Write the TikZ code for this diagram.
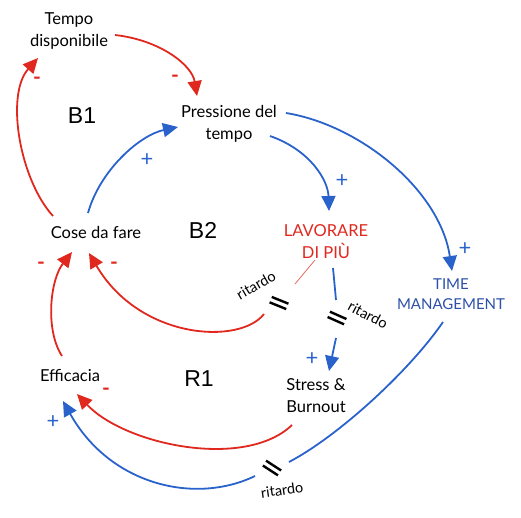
\documentclass[tikz,border=0pt]{standalone}
\usepackage{fontspec}
\setmainfont{Lato}
\newfontfamily\helv{Liberation Sans}
\usetikzlibrary{arrows.meta}
\definecolor{cldred}{HTML}{E0281E}
\definecolor{cldblue}{HTML}{2A62CC}
\definecolor{tmblue}{HTML}{2C50A8}
\begin{document}
\begin{tikzpicture}[x=1pt,y=1pt,
  var/.style={align=center,font=\fontsize{16.5}{22}\selectfont,inner sep=0pt},
  loopname/.style={font=\helv\fontsize{23}{23}\selectfont,inner sep=0pt},
  minus/.style={text=cldred,font=\bfseries\fontsize{21}{21}\selectfont,inner sep=0pt},
  plus/.style={text=cldblue,font=\fontsize{22}{22}\selectfont,inner sep=0pt},
  neglink/.style={draw=cldred,line width=1.8pt,-{Triangle[length=15pt,width=14pt]},fill=none},
  poslink/.style={draw=cldblue,line width=1.8pt,-{Triangle[length=15pt,width=14pt]},fill=none},
  delaytext/.style={font=\fontsize{14.5}{14.5}\selectfont,inner sep=0pt},
  delaymarks/.pic={\draw[line width=2.4pt,black] (-9,2.9)--(9,2.9) (-9,-2.9)--(9,-2.9);}
]
\useasboundingbox (0,0) rectangle (521,-517);

% variables
\node[var] (T) at (69,-31) {Tempo\\disponibile};
\node[var] (P) at (229,-124) {Pressione del\\tempo};
\node[var] (C) at (96,-232) {Cose da fare};
\node[var,text=cldred] (L) at (326,-242) {LAVORARE\\DI PIÙ};
\node[var,text=tmblue,font=\fontsize{15}{20}\selectfont] (M) at (451,-294) {TIME\\MANAGEMENT};
\node[var] (E) at (70,-375) {Efficacia};
\node[var] (S) at (316,-396) {Stress \&\\Burnout};

% loop names
\node[loopname] (b1) at (82,-116) {B1};
\node[loopname] (b2) at (203,-230) {B2};
\node[loopname] (r1) at (199,-379) {R1};

% delay marks
\node[coordinate] (d1) at (279,-303) {};
\node[coordinate] (d2) at (337,-318) {};
\node[coordinate] (d3) at (272,-468) {};
\pic[rotate=-22] at (d1) {delaymarks};
\pic[rotate=-24] at (d2) {delaymarks};
\pic[rotate=-33] at (d3) {delaymarks};
\node[delaytext,rotate=30] (rt1) at (256,-285) {ritardo};
\node[delaytext,rotate=-28] (rt2) at (368,-315) {ritardo};
\node[delaytext,rotate=8] (rt3) at (282,-490) {ritardo};

% connectors
\draw[neglink] ([xshift=-43,yshift=16]C.center) .. controls (20,-180) and (5,-95) .. ([xshift=-31,yshift=-27]T.center);
\draw[neglink] ([xshift=46,yshift=-4]T.center) .. controls (160,-40) and (192,-65) .. ([xshift=-32,yshift=28]P.center);
\draw[poslink] ([xshift=-8,yshift=19]C.center) .. controls (100,-170) and (140,-135) .. ([xshift=-51,yshift=-3]P.center);
\draw[poslink] ([xshift=41,yshift=-12]P.center) .. controls (310,-150) and (328,-180) .. ([xshift=3,yshift=31]L.center);
\draw[poslink] ([xshift=57,yshift=11]P.center) .. controls (360,-125) and (440,-190) .. ([xshift=1,yshift=23]M.center);
\draw[cldred!70,line width=0.8pt] ([xshift=-11,yshift=-18]L.center) -- ([xshift=16,yshift=19]d1);
\draw[neglink] ([xshift=-15,yshift=-11]d1) .. controls (240,-345) and (140,-340) .. ([xshift=-7,yshift=-21]C.center);
\draw[neglink] ([xshift=-8,yshift=19]E.center) .. controls (45,-330) and (50,-280) .. ([xshift=-24,yshift=-20]C.center);
\draw[cldblue,line width=1.8pt] ([xshift=7,yshift=-26]L.center) -- ([xshift=-1,yshift=18]d2);
\draw[poslink] ([xshift=-1,yshift=-20]d2) -- ([xshift=13,yshift=25]S.center);
\draw[neglink] ([xshift=-24,yshift=-29]S.center) .. controls (245,-470) and (125,-445) .. ([xshift=7,yshift=-19]E.center);
\draw[cldblue,line width=1.8pt] ([xshift=-8,yshift=-28]M.center) .. controls (410,-370) and (340,-435) .. ([xshift=17,yshift=6]d3);
\draw[poslink] ([xshift=-17,yshift=-8]d3) .. controls (195,-505) and (110,-485) .. ([xshift=-7,yshift=-26]E.center);

% polarities
\node[minus] (m1) at (37,-81) {-};
\node[minus] (m2) at (175,-79) {-};
\node[plus] (p1) at (147,-160) {+};
\node[plus] (p2) at (342,-181) {+};
\node[plus] (p3) at (465,-249) {+};
\node[minus] (m3) at (41,-266) {-};
\node[minus] (m4) at (114,-266) {-};
\node[plus] (p4) at (312,-359) {+};
\node[minus] (m5) at (106,-392) {-};
\node[plus] (p5) at (53,-422) {+};
\end{tikzpicture}
\end{document}
